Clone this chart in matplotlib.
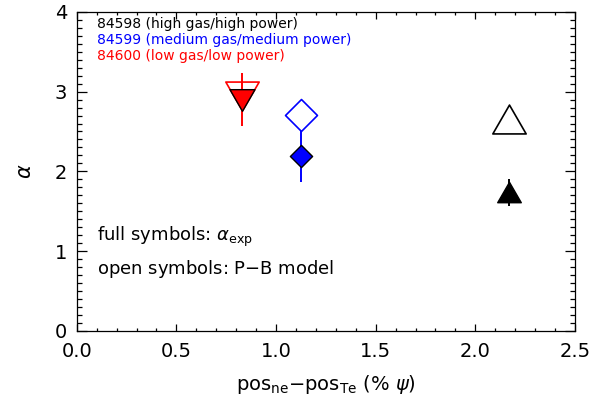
import matplotlib
matplotlib.use("Agg")
import matplotlib.pyplot as plt
from matplotlib.path import Path
from matplotlib.ticker import MultipleLocator

# ---- data ----
shots = ["84598", "84599", "84600"]
legend_texts = ["84598 (high gas/high power)",
                "84599 (medium gas/medium power)",
                "84600 (low gas/low power)"]
colors = ["black", "blue", "red"]
dpos = [2.17, 1.125, 0.83]          # pos_ne - pos_Te (% psi)
alpha_exp = [1.74, 2.19, 2.90]      # full symbols
alpha_err = [0.17, 0.32, 0.33]
alpha_pb = [2.66, 2.71, 2.95]       # open symbols (P-B model)

plt.rcParams['font.family'] = ['DejaVu Sans']
plt.rcParams['mathtext.fontset'] = 'dejavusans'

tri_up = Path([(0, 0.866), (-1, -0.866), (1, -0.866), (0, 0.866)],
              [Path.MOVETO, Path.LINETO, Path.LINETO, Path.CLOSEPOLY])
tri_dn = Path([(0, -0.866), (-1, 0.866), (1, 0.866), (0, -0.866)],
              [Path.MOVETO, Path.LINETO, Path.LINETO, Path.CLOSEPOLY])
diam = Path([(0, 1), (1, 0), (0, -1), (-1, 0), (0, 1)],
            [Path.MOVETO, Path.LINETO, Path.LINETO, Path.LINETO, Path.CLOSEPOLY])
markers = [tri_up, diam, tri_dn]
ms_open = [24, 23, 24]
ms_full = [17, 16, 18]

fig = plt.figure(figsize=(6.04, 4.08), dpi=100)
ax = fig.add_axes([0.127, 0.189, 0.825, 0.782])

for i in range(len(shots)):
    c = colors[i]
    ax.plot([dpos[i]], [alpha_pb[i]], linestyle='none', marker=markers[i],
            markersize=ms_open[i], markerfacecolor='white',
            markeredgecolor=c, markeredgewidth=1.2, zorder=2)
    ax.errorbar([dpos[i]], [alpha_exp[i]], yerr=[alpha_err[i]], fmt='none',
                ecolor=c, elinewidth=1.4, capsize=0, zorder=3)
    ax.plot([dpos[i]], [alpha_exp[i]], linestyle='none', marker=markers[i],
            markersize=ms_full[i], markerfacecolor=c,
            markeredgecolor='black', markeredgewidth=1.0, zorder=4)

ax.set_xlim(0, 2.5)
ax.set_ylim(0, 4)
ax.xaxis.set_major_locator(MultipleLocator(0.5))
ax.xaxis.set_minor_locator(MultipleLocator(0.1))
ax.yaxis.set_major_locator(MultipleLocator(1))
ax.yaxis.set_minor_locator(MultipleLocator(0.1))
ax.xaxis.set_major_formatter(matplotlib.ticker.FormatStrFormatter('%.1f'))
ax.tick_params(which='both', direction='in', top=True, right=True,
               labelsize=14, width=0.9, colors='black')
ax.tick_params(axis='x', which='major', length=5, pad=8)
ax.tick_params(axis='x', which='minor', length=2.5)
ax.tick_params(axis='y', which='major', length=7, pad=7)
ax.tick_params(axis='y', which='minor', length=3.5)
for s in ax.spines.values():
    s.set_linewidth(0.9)

ax.set_xlabel(r'pos$_{\rm ne}$$-$pos$_{\rm Te}$ (% $\psi$)', fontsize=14, labelpad=9)
ax.set_ylabel(r'$\alpha$', fontsize=15, labelpad=14)

ys = [3.85, 3.65, 3.45]
for t, c, y in zip(legend_texts, colors, ys):
    ax.text(0.1, y, t, color=c, fontsize=10, va='center', ha='left')

ax.text(0.1, 1.18, r'full symbols: $\alpha_{\rm exp}$', fontsize=13,
        va='center', ha='left')
ax.text(0.1, 0.77, 'open symbols: P$-$B model', fontsize=13,
        va='center', ha='left')

fig.savefig('out.png', dpi=100)
